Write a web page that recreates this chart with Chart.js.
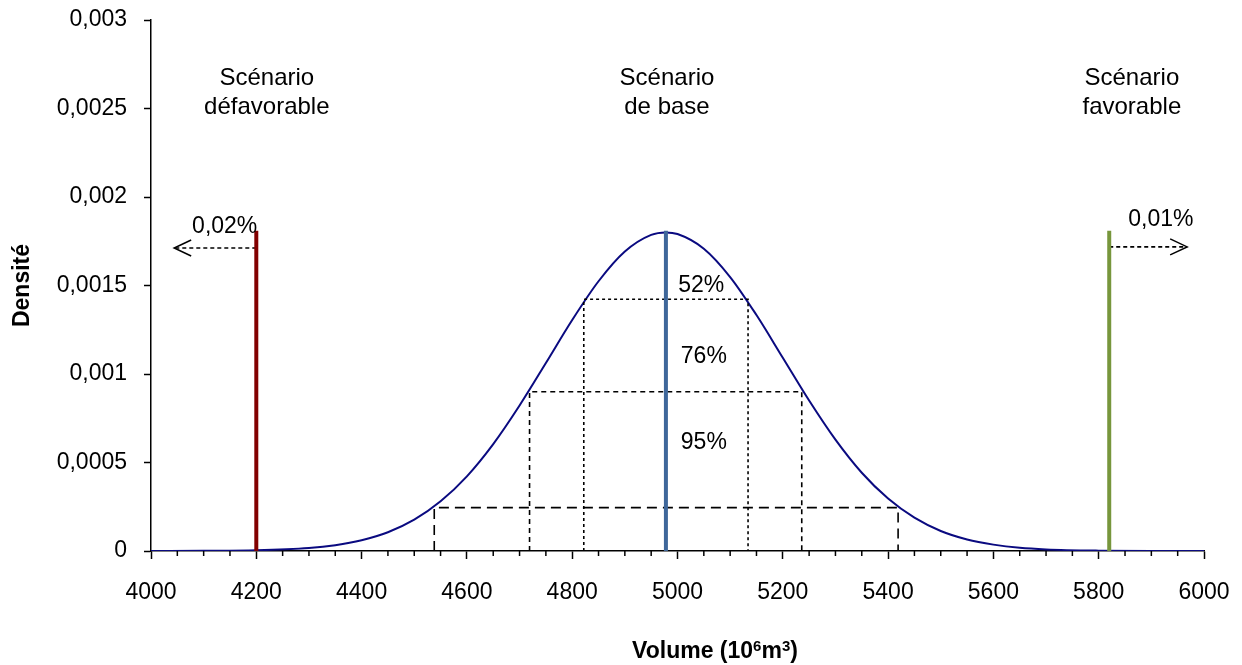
<!DOCTYPE html>
<html>
<head>
<meta charset="utf-8">
<script src="https://cdn.jsdelivr.net/npm/chart.js@4"></script>
<style>
  html, body { margin: 0; padding: 0; background: #fff; }
  #wrap { width: 1242px; height: 665px; }
</style>
</head>
<body>
<div id="wrap"><canvas id="densityChart"></canvas></div>
<script>
// density curve (volume in 10^6 m3)
const volumes = [4000, 4100, 4200, 4300, 4350, 4400, 4450, 4500, 4550, 4600, 4650, 4700, 4750, 4800, 4850, 4900, 4950, 4978,
                 5000, 5050, 5100, 5150, 5200, 5250, 5300, 5350, 5400, 5450, 5500, 5550, 5600, 5650, 5700, 5800, 5900, 6000];
const density = [0, 0.000001, 0.000004, 0.000017, 0.000033, 0.000061, 0.000106, 0.000177, 0.000281, 0.000422, 0.000604, 0.000822,
                 0.001062, 0.001305, 0.001524, 0.001692, 0.001786, 0.0018, 0.001791, 0.001708, 0.001548, 0.001333, 0.001092,
                 0.00085, 0.000629, 0.000442, 0.000296, 0.000188, 0.000113, 0.000065, 0.000036, 0.000018, 0.000009, 0.000002, 0, 0];

// scenarios
const scenarioNames = [['Scénario', 'défavorable'], ['Scénario', 'de base'], ['Scénario', 'favorable']];
const scenarioVolumes = [4200, 4978, 5820];
const scenarioTop = 0.00181;

// confidence intervals
const intervalLabels = ['52%', '76%', '95%'];
const intervalLow = [4822, 4719, 4538];
const intervalHigh = [5134, 5236, 5419];
const intervalDensity = [0.001422, 0.0009, 0.000245];

// tail probabilities
const tailLabels = ['0,02%', '0,01%'];
const tailFrom = [4200, 5820];
const tailTo = [4044, 5968];
const tailDensity = [0.001712, 0.001718];

const xTicks = [4000, 4200, 4400, 4600, 4800, 5000, 5200, 5400, 5600, 5800, 6000];
const yTicks = [0, 0.0005, 0.001, 0.0015, 0.002, 0.0025, 0.003];

const FONT = "'Liberation Sans', Arial, sans-serif";
const scenarioColors = ['#820000', '#3F679A', '#77963C'];
const intervalDashes = [[3, 3], [5, 4], [10, 6]];

const datasets = [];

datasets.push({
    label: 'Densité',
    data: volumes.map((v, i) => ({ x: v, y: density[i] })),
    borderColor: '#0A0A80',
    borderWidth: 2,
    pointRadius: 0,
    cubicInterpolationMode: 'monotone',
    fill: false,
    order: 5
});

intervalLabels.forEach((lab, i) => {
    datasets.push({
        label: lab,
        data: [
            { x: intervalLow[i], y: 0 },
            { x: intervalLow[i], y: intervalDensity[i] },
            { x: intervalHigh[i], y: intervalDensity[i] },
            { x: intervalHigh[i], y: 0 }
        ],
        borderColor: '#000',
        borderWidth: 1.6,
        borderDash: intervalDashes[i],
        pointRadius: 0,
        tension: 0,
        fill: false,
        order: 4
    });
});

tailLabels.forEach((lab, i) => {
    datasets.push({
        label: lab,
        data: [{ x: tailFrom[i], y: tailDensity[i] }, { x: tailTo[i], y: tailDensity[i] }],
        borderColor: '#000',
        borderWidth: 1.6,
        borderDash: [4, 3],
        pointRadius: 0,
        fill: false,
        order: 3
    });
});

scenarioVolumes.forEach((v, i) => {
    datasets.push({
        label: scenarioNames[i].join(' '),
        data: [{ x: v, y: 0 }, { x: v, y: scenarioTop }],
        borderColor: scenarioColors[i],
        borderWidth: 4,
        borderCapStyle: 'butt',
        pointRadius: 0,
        fill: false,
        order: 1
    });
});

function frNumber(v) {
    return parseFloat(v.toFixed(6)).toString().replace('.', ',');
}

// minor ticks, arrow heads, text labels and the x title with superscripts
const annotations = {
    id: 'annotations',
    afterDatasetsDraw(chart) {
        const { ctx, scales: { x, y } } = chart;
        ctx.save();

        // minor ticks on the x axis every 50
        ctx.strokeStyle = '#000';
        ctx.lineWidth = 1.5;
        for (let v = 4050; v < 6000; v += 50) {
            if (v % 200 === 0) continue;
            const px = x.getPixelForValue(v);
            ctx.beginPath();
            ctx.moveTo(px, y.bottom);
            ctx.lineTo(px, y.bottom + 5);
            ctx.stroke();
        }

        // arrow heads
        ctx.lineWidth = 1.5;
        tailTo.forEach((v, i) => {
            const px = x.getPixelForValue(v);
            const py = y.getPixelForValue(tailDensity[i]);
            const dir = tailTo[i] < tailFrom[i] ? 1 : -1;
            ctx.beginPath();
            ctx.moveTo(px + dir * 17, py - 8);
            ctx.lineTo(px, py);
            ctx.lineTo(px + dir * 17, py + 8);
            ctx.stroke();
        });

        ctx.fillStyle = '#000';
        ctx.textAlign = 'center';
        ctx.textBaseline = 'middle';

        // scenario titles
        ctx.font = '24px ' + FONT;
        const titleX = [4220, 4980, 5863];
        scenarioNames.forEach((lines, i) => {
            const px = x.getPixelForValue(titleX[i]);
            lines.forEach((t, j) => {
                ctx.fillText(t, px, y.getPixelForValue(0.002672) + j * 29);
            });
        });

        // tail labels
        ctx.font = '23px ' + FONT;
        const tailX = [4140, 5918];
        const tailY = [0.00183, 0.00187];
        tailLabels.forEach((t, i) => {
            ctx.fillText(t, x.getPixelForValue(tailX[i]), y.getPixelForValue(tailY[i]));
        });

        // interval labels
        const labX = [5045, 5050, 5050];
        const labY = [0.0015, 0.0011, 0.00061];
        intervalLabels.forEach((t, i) => {
            ctx.fillText(t, x.getPixelForValue(labX[i]), y.getPixelForValue(labY[i]));
        });

        // x axis title: Volume (10^6 m^3)
        const big = 'bold 23px ' + FONT;
        const small = 'bold 15px ' + FONT;
        const parts = [['Volume (10', big, 0], ['6', small, -7], ['m', big, 0], ['3', small, -7], [')', big, 0]];
        ctx.textAlign = 'left';
        ctx.textBaseline = 'alphabetic';
        let total = 0;
        parts.forEach(p => { ctx.font = p[1]; total += ctx.measureText(p[0]).width; });
        let cx = 715 - total / 2;
        const base = chart.height - 7;
        parts.forEach(p => {
            ctx.font = p[1];
            ctx.fillText(p[0], cx, base + p[2]);
            cx += ctx.measureText(p[0]).width;
        });

        ctx.restore();
    }
};

new Chart(document.getElementById('densityChart'), {
    type: 'line',
    data: { datasets },
    options: {
        responsive: true,
        maintainAspectRatio: false,
        animation: false,
        layout: { padding: { top: 20, right: 38, bottom: 0, left: 0 } },
        plugins: {
            legend: { display: false },
            tooltip: { enabled: false }
        },
        scales: {
            x: {
                type: 'linear',
                min: 4000,
                max: 6000,
                afterBuildTicks: scale => { scale.ticks = xTicks.map(v => ({ value: v })); },
                afterFit: scale => {
                    scale.height = 114;
                    scale.paddingLeft = 0;
                    scale.paddingRight = 0;
                },
                ticks: {
                    autoSkip: false,
                    maxRotation: 0,
                    color: '#000',
                    padding: 20,
                    font: { family: FONT, size: 23 },
                    callback: v => String(v)
                },
                grid: { drawOnChartArea: false, drawTicks: true, tickLength: 8, tickColor: '#000', tickWidth: 1.5 },
                border: { display: true, color: '#000', width: 1.5 },
                title: { display: false }
            },
            y: {
                type: 'linear',
                min: 0,
                max: 0.003,
                afterBuildTicks: scale => { scale.ticks = yTicks.map(v => ({ value: v })); },
                afterFit: scale => {
                    scale.width = 151;
                    scale.paddingTop = 0;
                    scale.paddingBottom = 0;
                },
                ticks: {
                    color: '#000',
                    padding: 17,
                    font: { family: FONT, size: 23 },
                    callback: v => frNumber(v)
                },
                grid: { drawOnChartArea: false, drawTicks: true, tickLength: 7, tickColor: '#000', tickWidth: 1.5 },
                border: { display: true, color: '#000', width: 1.5 },
                title: {
                    display: true,
                    text: 'Densité',
                    color: '#000',
                    font: { family: FONT, size: 23, weight: 'bold' },
                    padding: { top: 9, bottom: 0 }
                }
            }
        }
    },
    plugins: [annotations]
});
</script>
</body>
</html>
